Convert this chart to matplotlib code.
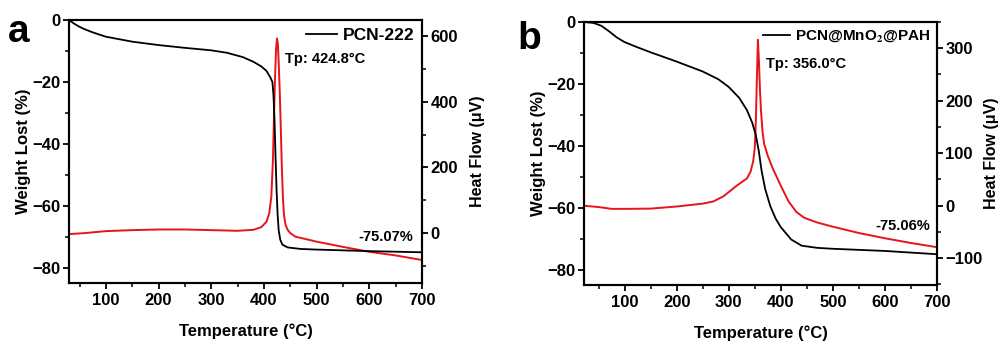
import matplotlib
matplotlib.use("Agg")
import matplotlib.pyplot as plt
from matplotlib.ticker import MultipleLocator

plt.rcParams['font.family'] = ['Liberation Sans', 'DejaVu Sans']
plt.rcParams['font.weight'] = 'bold'
plt.rcParams['mathtext.fontset'] = 'stix'

# Panel a: PCN-222
a_tga_T = [30, 40, 50, 60, 75, 100, 150, 200, 250, 300, 330, 360, 380, 395, 405, 412, 416,
           418, 420, 422, 424, 426, 428, 431, 435, 445, 470, 500, 600, 700]
a_tga_W = [0, -1.2, -2.2, -3.0, -4.0, -5.4, -7.0, -8.1, -9.0, -9.8, -10.6, -12.0, -13.5, -15.0,
           -16.5, -18.5, -20.0, -24, -32, -44, -55, -63, -68, -71, -72.6, -73.5, -74.0, -74.2,
           -74.7, -75.07]
a_dsc_T = [30, 60, 100, 150, 200, 250, 300, 350, 380, 395, 405, 410, 414, 417, 419, 421, 423,
           424.8, 426.5, 428, 430, 432, 434, 436, 438, 441, 445, 450, 460, 500, 550, 600, 650, 700]
a_dsc_H = [-3, 0, 6, 9, 11, 11, 9, 7, 10, 18, 35, 60, 110, 220, 350, 470, 560,
           593, 575, 520, 430, 320, 200, 110, 55, 25, 10, 0, -11, -26, -42, -57, -68, -82]

# Panel b: PCN@MnO2@PAH
b_tga_T = [22, 40, 55, 70, 85, 100, 125, 150, 200, 250, 280, 300, 320, 335, 345, 352, 358, 363,
           370, 380, 390, 400, 420, 440, 470, 500, 600, 700]
b_tga_W = [0, -0.3, -1.2, -3.0, -5.0, -6.5, -8.2, -9.8, -12.8, -16.0, -18.5, -21.0, -24.5, -28.5,
           -32.5, -36.5, -42, -48, -54, -59.6, -63.5, -66.3, -70.3, -72.3, -73.0, -73.3, -74.0,
           -75.06]
b_dsc_T = [22, 50, 75, 100, 150, 200, 250, 270, 290, 305, 315, 325, 335, 342, 347, 350, 352, 354,
           356, 358, 360, 362, 365, 368, 375, 385, 400, 415, 430, 445, 470, 500, 550, 600, 650, 700]
b_dsc_H = [0, -2.5, -6, -6, -5.5, -1.5, 4, 8, 18, 30, 38, 45, 52, 65, 85, 110, 160, 240,
           316, 275, 220, 180, 140, 118, 95, 70, 38, 8, -12, -23, -32, -40, -52, -62, -71, -79]

panels = [
    dict(letter='a', rect=[0.069, 0.1725, 0.353, 0.769], xlim=(30, 700),
         tT=a_tga_T, tW=a_tga_W, dT=a_dsc_T, dH=a_dsc_H,
         rlim=(-152, 649), rmajor=200, rminor=100, label='PCN-222', legfs=12.5,
         tp='Tp: 424.8°C', tp_xy=(0.612, 0.85), loss='-75.07%', loss_xy=(0.975, 0.175),
         letter_xy=(0.008, 0.905), rpad=9),
    dict(letter='b', rect=[0.584, 0.1667, 0.353, 0.769], xlim=(22, 700),
         tT=b_tga_T, tW=b_tga_W, dT=b_dsc_T, dH=b_dsc_H,
         rlim=(-151, 350), rmajor=100, rminor=50, label=r'PCN@MnO$_\mathbf{2}$@PAH', legfs=11,
         tp='Tp: 356.0°C', tp_xy=(0.515, 0.84), loss='-75.06%', loss_xy=(0.98, 0.225),
         letter_xy=(0.517, 0.885), rpad=1),
]

fig = plt.figure(figsize=(10, 3.42), dpi=100)
fs = 12
for p in panels:
    ax = fig.add_axes(p['rect'])
    ax2 = ax.twinx()
    ax.plot(p['tT'], p['tW'], color='black', lw=1.3, label=p['label'], zorder=3)
    ax2.plot(p['dT'], p['dH'], color='#e8141a', lw=1.4)
    ax.set_zorder(ax2.get_zorder() + 1)
    ax.patch.set_visible(False)
    ax.set_xlim(*p['xlim'])
    ax.set_ylim(-85, 0)
    ax2.set_ylim(*p['rlim'])
    ax.xaxis.set_major_locator(MultipleLocator(100))
    ax.xaxis.set_minor_locator(MultipleLocator(50))
    ax.yaxis.set_major_locator(MultipleLocator(20))
    ax.yaxis.set_minor_locator(MultipleLocator(10))
    ax2.yaxis.set_major_locator(MultipleLocator(p['rmajor']))
    ax2.yaxis.set_minor_locator(MultipleLocator(p['rminor']))
    for a in (ax, ax2):
        for s in a.spines.values():
            s.set_linewidth(1.5)
        a.tick_params(which='major', direction='out', length=4, width=1.3, labelsize=fs, pad=2)
        a.tick_params(which='minor', direction='out', length=3, width=1.1)
    ax.tick_params(axis='x', pad=3)
    for lab in ax.get_xticklabels() + ax.get_yticklabels() + ax2.get_yticklabels():
        lab.set_fontweight('bold')
    ax.set_xlabel('Temperature (°C)', fontsize=fs, fontweight='bold', labelpad=11)
    ax.set_ylabel('Weight Lost (%)', fontsize=fs, fontweight='bold', labelpad=1)
    ax2.set_ylabel('Heat Flow (μV)', fontsize=11.5, fontweight='bold', labelpad=p['rpad'])
    leg = ax.legend(loc='upper right', frameon=False, fontsize=p['legfs'], handlelength=1.8,
                    handletextpad=0.3, borderaxespad=0.15, borderpad=0.3)
    for t in leg.get_texts():
        t.set_fontweight('bold')
    ax.text(*p['tp_xy'], p['tp'], transform=ax.transAxes, fontsize=10.5, fontweight='bold',
            va='center', ha='left')
    ax.text(*p['loss_xy'], p['loss'], transform=ax.transAxes, fontsize=10.5, fontweight='bold',
            va='center', ha='right')
    fig.text(*p['letter_xy'], p['letter'], fontsize=28, fontweight='bold', va='center', ha='left')

fig.savefig('out.png', dpi=100)
